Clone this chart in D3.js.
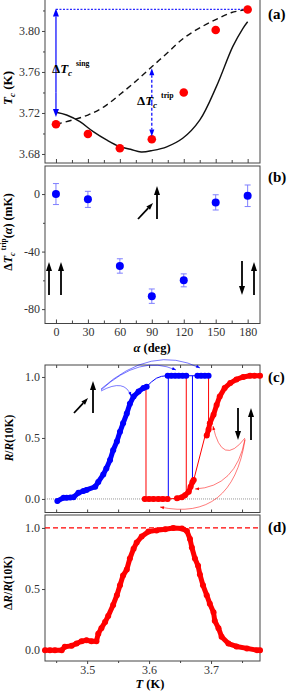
<!DOCTYPE html>
<html>
<head>
<meta charset="utf-8">
<script src="https://cdn.jsdelivr.net/npm/d3@7"></script>
<style>
  body { margin: 0; background: #fff; }
  svg text { font-family: "Liberation Serif", "Times New Roman", serif; }
  .tick text { font-size: 12px; fill: #333; }
  .tick line { stroke: #444; }
</style>
</head>
<body>
<div id="chart"></div>
<script>
// ---- (a) Tc vs alpha ----
var alpha = [0, 30, 60, 90, 120, 150, 180];
var tcPts = [3.709, 3.6995, 3.6856, 3.6944, 3.740, 3.801, 3.821];
var dashAlpha = [0, 15, 30, 45, 60, 75, 90, 105, 120, 135, 150, 165, 180];
var dashTc = [3.709, 3.713, 3.718, 3.726, 3.738, 3.751, 3.765, 3.779, 3.793, 3.803, 3.811, 3.818, 3.821];
var solidAlpha = [0, 10, 22.5, 35, 47.5, 60, 70, 80, 91, 104, 119, 135, 150.6, 166, 175.6, 180];
var solidTc = [3.7207, 3.718, 3.7115, 3.7018, 3.6937, 3.6871, 3.6846, 3.682, 3.6835, 3.687, 3.6953, 3.713, 3.7457, 3.7847, 3.8026, 3.809];
var tcTicks = [3.68, 3.72, 3.76, 3.80];
var tcMinor = [3.70, 3.74, 3.78, 3.82];

// ---- (b) delta Tc trip ----
var dTrip = [0, -3.7, -50, -71, -60, -5.8, -1.2];
var dTripErr = [7.3, 5.6, 5, 5, 4.5, 5.3, 7.5];
var dTicks = [-80, -40, 0];
var dMinor = [-60, -20];
var alphaTicks = [0, 30, 60, 90, 120, 150, 180];
var alphaMinor = [15, 45, 75, 105, 135, 165];

// ---- (c) R/R(10K) vs T ----
var blueT = [3.452, 3.462, 3.467, 3.473, 3.478, 3.486, 3.494, 3.499, 3.513, 3.518, 3.526, 3.531, 3.537, 3.542, 3.548, 3.553, 3.558, 3.564, 3.569, 3.575, 3.583, 3.591, 3.596,
             null, 3.630, 3.636, 3.642, 3.648, 3.654, 3.660, null, 3.678, 3.684, 3.690, 3.696];
var blueR = [-0.016, 0.01, 0.01, 0.012, 0.015, 0.05, 0.065, 0.074, 0.10, 0.14, 0.20, 0.25, 0.32, 0.40, 0.47, 0.55, 0.62, 0.70, 0.78, 0.84, 0.88, 0.91, 0.92,
             null, 1.01, 1.01, 1.01, 1.01, 1.01, 1.01, null, 1.01, 1.01, 1.01, 1.01];
var blueLinkT = [3.596, 3.604, 3.612, 3.620, 3.628, 3.630, 3.660, 3.678];
var blueLinkR = [0.92, 0.96, 0.99, 1.005, 1.01, 1.01, 1.01, 1.01];
var redT = [3.593, 3.600, 3.607, 3.615, 3.622, 3.630, null, 3.645, 3.653, 3.658, 3.664, 3.667, 3.670, 3.672,
            null, 3.693, 3.696, 3.698, 3.704, 3.709, 3.714, 3.722, 3.731, 3.741, 3.752, 3.763, 3.770, 3.779];
var redR = [0, 0, 0, 0, 0, 0, null, 0.005, 0.015, 0.03, 0.06, 0.10, 0.14, 0.155,
            null, 0.52, 0.57, 0.62, 0.69, 0.77, 0.84, 0.91, 0.95, 0.98, 1.00, 1.01, 1.01, 1.01];
var redLinkT = [3.630, 3.645, null, 3.672, 3.690, 3.693];
var redLinkR = [0, 0.005, null, 0.155, 0.51, 0.52];
// vertical jumps: T, from R, to R, colour
var jumpT = [3.595, 3.631, 3.660, 3.670, 3.696];
var jumpFrom = [0, 0, 1.01, 1.01, 1.01];
var jumpTo = [0.92, 1.01, 0.03, 0.14, 0.52];
var jumpCol = ["red", "blue", "red", "blue", "red"];
var rTicks = [0, 0.5, 1.0];
var tMajor = [3.5, 3.6, 3.7];
var tAll = [3.45, 3.5, 3.55, 3.6, 3.65, 3.7, 3.75];

// ---- (d) delta R / R(10K) ----
var diffT = [3.432, 3.440, 3.448, 3.459, 3.464, 3.475, 3.483, 3.491, 3.499, 3.507, 3.515, 3.518, 3.523, 3.529, 3.534, 3.542, 3.548, 3.553, 3.558, 3.564,
             3.569, 3.575, 3.580, 3.588, 3.599, 3.612, 3.626, 3.639, 3.653, 3.661, 3.666, 3.669, 3.674, 3.679, 3.682, 3.687, 3.693, 3.698, 3.704, 3.706,
             3.712, 3.717, 3.728, 3.741, 3.758, 3.774, 3.779];
var diffR = [0, 0, 0, 0, 0.027, 0.035, 0.054, 0.073, 0.081, 0.073, 0.073, 0.135, 0.18, 0.23, 0.28, 0.37, 0.45, 0.53, 0.61, 0.66,
             0.75, 0.83, 0.88, 0.93, 0.97, 0.98, 0.99, 1.00, 0.995, 0.975, 0.91, 0.84, 0.75, 0.69, 0.62, 0.53, 0.45, 0.38, 0.31, 0.24,
             0.18, 0.11, 0.054, 0.03, 0.014, 0, 0];

var W = 291, H = 691;
var L = 45, R = 260;
var BLUE = "#0000ff", RED = "#ff0000", AX = "#444";
var SERIF = "Liberation Serif";

var svg = d3.select("#chart").append("svg").attr("width", W).attr("height", H);

var xA = d3.scaleLinear().domain([-10.3, 191.6]).range([L, R]);
var xT = d3.scaleLinear().domain([3.432, 3.779]).range([L, R]);

var yA = d3.scaleLinear().domain([3.6712, 3.8302]).range([163, 0]);
var yB = d3.scaleLinear().domain([-90, 19.5]).range([323.5, 166]);
var yC = d3.scaleLinear().domain([-0.111, 1.098]).range([512.5, 365]);
var yD = d3.scaleLinear().domain([-0.089, 1.106]).range([661, 515]);

function frame(top, bottom) {
  svg.append("rect").attr("x", L).attr("y", top).attr("width", R - L).attr("height", bottom - top)
    .attr("fill", "none").attr("stroke", AX).attr("stroke-width", 1);
}

function leftAxis(y, major, minor, fmt) {
  var g = svg.append("g").attr("transform", "translate(" + L + ",0)")
    .call(d3.axisLeft(y).tickValues(major).tickSize(3).tickPadding(2).tickFormat(fmt));
  g.attr("font-family", SERIF).select(".domain").remove();
  if (minor) {
    var m = svg.append("g").attr("transform", "translate(" + L + ",0)")
      .call(d3.axisLeft(y).tickValues(minor).tickSize(2).tickFormat(""));
    m.select(".domain").remove();
  }
}

function bottomTicks(x, at, vals, size) {
  var g = svg.append("g").attr("transform", "translate(0," + at + ")")
    .call(d3.axisBottom(x).tickValues(vals).tickSize(size).tickFormat(""));
  g.select(".domain").remove();
}

function topTicks(x, at, vals, size) {
  var g = svg.append("g").attr("transform", "translate(0," + at + ")")
    .call(d3.axisTop(x).tickValues(vals).tickSize(size).tickFormat(""));
  g.select(".domain").remove();
}

// straight arrow with a filled head at (x2,y2)
function arrow(x1, y1, x2, y2, col, w, hl, hw, dash) {
  var a = Math.atan2(y2 - y1, x2 - x1);
  var bx = x2 - hl * Math.cos(a), by = y2 - hl * Math.sin(a);
  svg.append("line").attr("x1", x1).attr("y1", y1).attr("x2", bx).attr("y2", by)
    .attr("stroke", col).attr("stroke-width", w).attr("stroke-dasharray", dash || null);
  head(x2, y2, a, col, hl, hw);
}

function head(x, y, a, col, hl, hw) {
  var bx = x - hl * Math.cos(a), by = y - hl * Math.sin(a);
  var px = -Math.sin(a) * hw / 2, py = Math.cos(a) * hw / 2;
  svg.append("path").attr("d", "M" + x + "," + y + "L" + (bx + px) + "," + (by + py) + "L" + (bx - px) + "," + (by - py) + "Z")
    .attr("fill", col);
}

// thin curved arrow (quadratic)
function curved(x1, y1, cx, cy, x2, y2, col) {
  svg.append("path").attr("d", "M" + x1 + "," + y1 + "Q" + cx + "," + cy + " " + x2 + "," + y2)
    .attr("fill", "none").attr("stroke", col).attr("stroke-width", 0.7).attr("stroke-opacity", 0.75);
  head(x2, y2, Math.atan2(y2 - cy, x2 - cx), col, 4, 3);
}

function panelLabel(txt, y) {
  svg.append("text").attr("x", 268).attr("y", y).attr("font-size", 15).attr("font-weight", "bold").text(txt);
}

function deltaT(x, y, sup, size) {
  var t = svg.append("text").attr("x", x).attr("y", y).attr("font-size", size).attr("font-weight", "bold");
  t.append("tspan").text("\u0394");
  t.append("tspan").attr("font-style", "italic").text("T");
  t.append("tspan").attr("font-style", "italic").attr("font-size", size * 0.7).attr("dy", size * 0.25).text("c");
  t.append("tspan").attr("font-size", size * 0.6).attr("dx", size * 0.3).attr("dy", -size * 0.8).text(sup);
  return t;
}

var num = function(d) { return String(d); };

// ================= (a) =================
frame(-5, 163);
leftAxis(yA, tcTicks, tcMinor, d3.format(".2f"));
bottomTicks(xA, 163, alphaTicks, -4);
bottomTicks(xA, 163, alphaMinor, -3);

svg.append("line").attr("x1", xA(0)).attr("x2", xA(180)).attr("y1", yA(3.821)).attr("y2", yA(3.821))
  .attr("stroke", "#2a2aff").attr("stroke-width", 1.2).attr("stroke-dasharray", "2,1.5");

var lineA = d3.line().curve(d3.curveCatmullRom).x(function(d) { return xA(d[0]); }).y(function(d) { return yA(d[1]); });
svg.append("path").attr("d", lineA(d3.zip(dashAlpha, dashTc))).attr("fill", "none")
  .attr("stroke", "#111").attr("stroke-width", 1.4).attr("stroke-dasharray", "6,4");
svg.append("path").attr("d", lineA(d3.zip(solidAlpha, solidTc))).attr("fill", "none")
  .attr("stroke", "#111").attr("stroke-width", 1.4);

svg.selectAll(".pa").data(d3.zip(alpha, tcPts)).enter().append("circle")
  .attr("cx", function(d) { return xA(d[0]); }).attr("cy", function(d) { return yA(d[1]); })
  .attr("r", 4.3).attr("fill", RED);

// delta Tc arrows
arrow(xA(0), yA(3.80), xA(0), yA(3.822), BLUE, 1.2, 8, 6);
arrow(xA(0), yA(3.74), xA(0), yA(3.716), BLUE, 1.2, 8, 6);
svg.append("line").attr("x1", xA(0)).attr("x2", xA(0)).attr("y1", yA(3.80)).attr("y2", yA(3.74)).attr("stroke", BLUE).attr("stroke-width", 1.2);
arrow(xA(90), yA(3.73), xA(90), yA(3.7636), BLUE, 1.2, 7, 5, "3,2");
arrow(xA(90), yA(3.73), xA(90), yA(3.697), BLUE, 1.2, 7, 5, "3,2");
deltaT(52, 73, "sing", 13);
deltaT(137, 105, "trip", 13);

panelLabel("(a)", 19);
var ta = svg.append("text").attr("transform", "translate(12,88) rotate(-90)").attr("text-anchor", "middle")
  .attr("font-size", 13).attr("font-weight", "bold");
ta.append("tspan").attr("font-style", "italic").text("T");
ta.append("tspan").attr("font-style", "italic").attr("font-size", 9).attr("dy", 3).text("c");
ta.append("tspan").attr("dy", -3).text(" (K)");

// ================= (b) =================
frame(166, 323.5);
leftAxis(yB, dTicks, dMinor, num);
var gb = svg.append("g").attr("transform", "translate(0,323.5)")
  .call(d3.axisBottom(xA).tickValues(alphaTicks).tickSize(-4).tickPadding(4).tickFormat(num));
gb.attr("font-family", SERIF).select(".domain").remove();
bottomTicks(xA, 323.5, alphaMinor, -3);

var bData = d3.zip(alpha, dTrip, dTripErr);
var eb = svg.selectAll(".eb").data(bData).enter().append("g").attr("stroke", "#7f7fff").attr("stroke-width", 1);
eb.append("line").attr("x1", function(d) { return xA(d[0]); }).attr("x2", function(d) { return xA(d[0]); })
  .attr("y1", function(d) { return yB(d[1] - d[2]); }).attr("y2", function(d) { return yB(d[1] + d[2]); });
eb.append("line").attr("x1", function(d) { return xA(d[0]) - 3; }).attr("x2", function(d) { return xA(d[0]) + 3; })
  .attr("y1", function(d) { return yB(d[1] + d[2]); }).attr("y2", function(d) { return yB(d[1] + d[2]); });
eb.append("line").attr("x1", function(d) { return xA(d[0]) - 3; }).attr("x2", function(d) { return xA(d[0]) + 3; })
  .attr("y1", function(d) { return yB(d[1] - d[2]); }).attr("y2", function(d) { return yB(d[1] - d[2]); });
svg.selectAll(".pb").data(bData).enter().append("circle")
  .attr("cx", function(d) { return xA(d[0]); }).attr("cy", function(d) { return yB(d[1]); })
  .attr("r", 4).attr("fill", BLUE);

// spin arrows in (b)
arrow(49, 295, 49, 262, "#000", 1.8, 9, 6);
arrow(61, 295, 61, 262, "#000", 1.8, 9, 6);
arrow(157, 219, 157, 186, "#000", 1.8, 9, 6);
arrow(138, 219, 153, 203, "#000", 1.8, 7, 5);
arrow(242, 261, 242, 295, "#000", 1.8, 9, 6);
arrow(254, 295, 254, 262, "#000", 1.8, 9, 6);

panelLabel("(b)", 182);
var tb = svg.append("text").attr("transform", "translate(12,232) rotate(-90)").attr("text-anchor", "middle")
  .attr("font-size", 12).attr("font-weight", "bold");
tb.append("tspan").text("\u0394");
tb.append("tspan").attr("font-style", "italic").text("T");
tb.append("tspan").attr("font-style", "italic").attr("font-size", 8).attr("dy", 3).text("c");
tb.append("tspan").attr("font-size", 7.5).attr("dx", 2).attr("dy", -9).text("trip");
tb.append("tspan").attr("dy", 6).text("(");
tb.append("tspan").attr("font-style", "italic").text("\u03b1");
tb.append("tspan").text(") (mK)");

var tx = svg.append("text").attr("x", 152).attr("y", 352).attr("text-anchor", "middle")
  .attr("font-size", 12.5).attr("font-weight", "bold");
tx.append("tspan").attr("font-style", "italic").text("\u03b1");
tx.append("tspan").text(" (deg)");

// ================= (c) =================
frame(365, 512.5);
leftAxis(yC, rTicks, null, d3.format(".1f"));
bottomTicks(xT, 512.5, tAll, -3);
topTicks(xT, 365, tAll, -3);

svg.append("line").attr("x1", L).attr("x2", R).attr("y1", yC(0)).attr("y2", yC(0))
  .attr("stroke", "#999").attr("stroke-width", 1).attr("stroke-dasharray", "1,1");

var lineC = d3.line().defined(function(d) { return d[0] !== null; })
  .x(function(d) { return xT(d[0]); }).y(function(d) { return yC(d[1]); });

// jumps
svg.selectAll(".jmp").data(d3.zip(jumpT, jumpFrom, jumpTo, jumpCol)).enter().append("line")
  .attr("x1", function(d) { return xT(d[0]); }).attr("x2", function(d) { return xT(d[0]); })
  .attr("y1", function(d) { return yC(d[1]); }).attr("y2", function(d) { return yC(d[2]); })
  .attr("stroke", function(d) { return d[3] === "red" ? RED : BLUE; }).attr("stroke-width", 1);

svg.append("path").attr("d", lineC(d3.zip(blueLinkT, blueLinkR))).attr("fill", "none").attr("stroke", BLUE).attr("stroke-width", 1);
svg.append("path").attr("d", lineC(d3.zip(redLinkT, redLinkR))).attr("fill", "none").attr("stroke", RED).attr("stroke-width", 1);

function dense(T, Rv, y, col, lineGen) {
  svg.append("path").attr("d", lineGen(d3.zip(T, Rv))).attr("fill", "none").attr("stroke", col)
    .attr("stroke-width", 5).attr("stroke-linejoin", "round").attr("stroke-linecap", "round");
  svg.append("g").selectAll("circle").data(d3.zip(T, Rv).filter(function(d) { return d[0] !== null; }))
    .enter().append("circle").attr("cx", function(d) { return xT(d[0]); }).attr("cy", function(d) { return y(d[1]); })
    .attr("r", 3).attr("fill", col);
}
dense(blueT, blueR, yC, BLUE, lineC);
dense(redT, redR, yC, RED, lineC);

// spin arrows in (c)
arrow(74, 413, 88, 398, "#000", 1.8, 7, 5);
arrow(93, 413, 93, 381, "#000", 1.8, 9, 6);
arrow(238, 408, 238, 440, "#000", 1.8, 9, 6);
arrow(251, 440, 251, 408, "#000", 1.8, 9, 6);

// thin curved pointers
curved(101, 390, 140, 354, 176, 370, BLUE);
curved(101, 389, 152, 344, 200, 368, BLUE);
curved(101, 391, 125, 378, 131, 396, BLUE);
curved(245, 438, 222, 468, 213, 426, RED);
curved(245, 439, 236, 487, 195, 489, RED);
curved(245, 440, 232, 522, 160, 507, RED);

panelLabel("(c)", 382);
var tc = svg.append("text").attr("transform", "translate(13,438) rotate(-90)").attr("text-anchor", "middle")
  .attr("font-size", 11.5).attr("font-weight", "bold");
tc.append("tspan").attr("font-style", "italic").text("R");
tc.append("tspan").text("/");
tc.append("tspan").attr("font-style", "italic").text("R");
tc.append("tspan").text("(10K)");

// ================= (d) =================
frame(515, 661);
leftAxis(yD, rTicks, null, d3.format(".1f"));
var gd = svg.append("g").attr("transform", "translate(0,661)")
  .call(d3.axisBottom(xT).tickValues(tMajor).tickSize(3).tickPadding(1).tickFormat(d3.format(".1f")));
gd.attr("font-family", SERIF).select(".domain").remove();
bottomTicks(xT, 661, [3.45, 3.55, 3.65, 3.75], 2);

svg.append("line").attr("x1", L).attr("x2", R).attr("y1", yD(1)).attr("y2", yD(1))
  .attr("stroke", RED).attr("stroke-width", 1.2).attr("stroke-dasharray", "5,3");

var lineD = d3.line().x(function(d) { return xT(d[0]); }).y(function(d) { return yD(d[1]); });
dense(diffT, diffR, yD, RED, lineD);

panelLabel("(d)", 532);
var td = svg.append("text").attr("transform", "translate(12,583) rotate(-90)").attr("text-anchor", "middle")
  .attr("font-size", 11.5).attr("font-weight", "bold");
td.append("tspan").text("\u0394");
td.append("tspan").attr("font-style", "italic").text("R");
td.append("tspan").text("/");
td.append("tspan").attr("font-style", "italic").text("R");
td.append("tspan").text("(10K)");

var txd = svg.append("text").attr("x", 150).attr("y", 688).attr("text-anchor", "middle")
  .attr("font-size", 12.5).attr("font-weight", "bold");
txd.append("tspan").attr("font-style", "italic").text("T");
txd.append("tspan").text(" (K)");
</script>
</body>
</html>
